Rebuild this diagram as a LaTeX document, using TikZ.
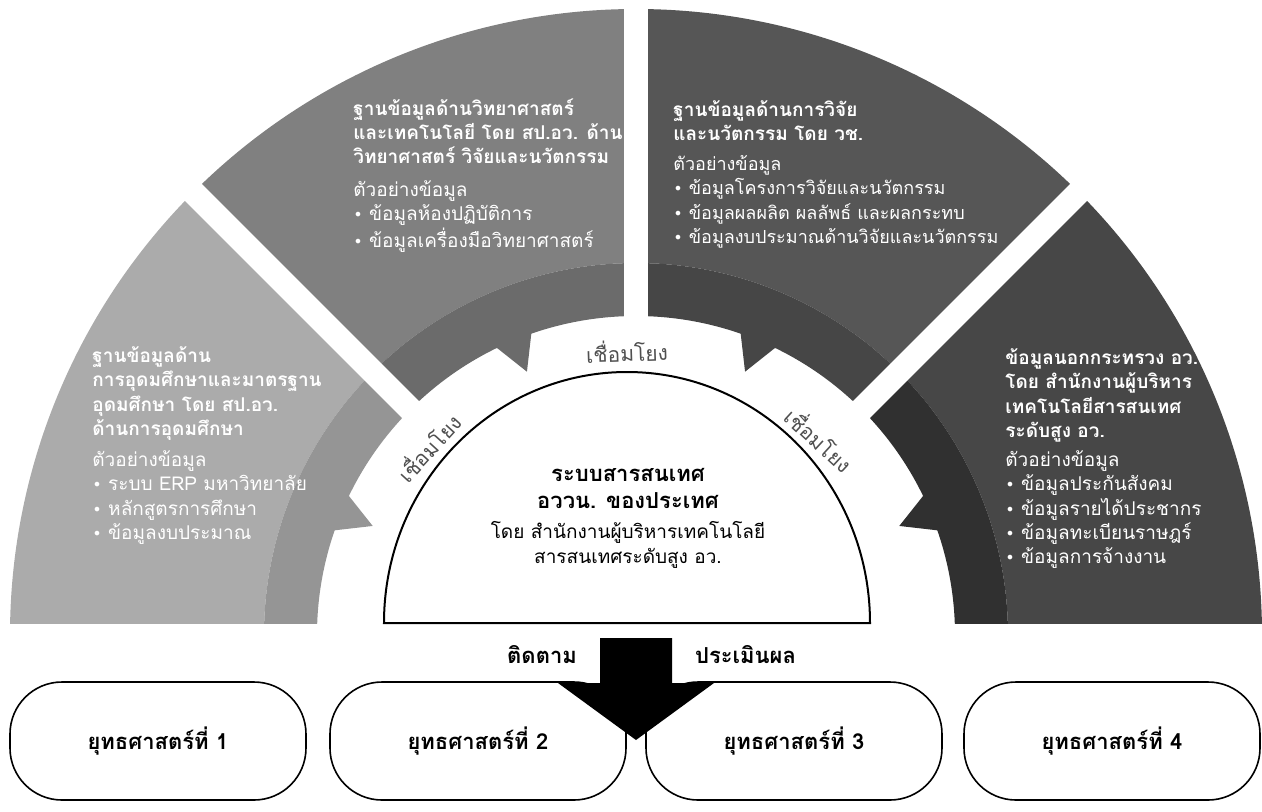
\documentclass[tikz,border=0pt]{standalone}
\usepackage{fontspec}
\setmainfont[Script=Thai]{Loma}
\newfontfamily\symfont{DejaVu Sans}
\newcommand{\bul}{{\symfont\footnotesize •}\ }

\definecolor{secA}{HTML}{ABABAB}
\definecolor{bandA}{HTML}{959595}
\definecolor{secB}{HTML}{808080}
\definecolor{bandB}{HTML}{6B6B6B}
\definecolor{secC}{HTML}{565656}
\definecolor{bandC}{HTML}{464646}
\definecolor{secD}{HTML}{474747}
\definecolor{bandD}{HTML}{303030}
\definecolor{linktext}{HTML}{505050}

\tikzset{
  ttl/.style={font=\bfseries\fontsize{9.5}{12.2}\selectfont, text=white, align=left, anchor=north west, inner sep=0pt},
  bdy/.style={font=\fontsize{9.5}{12.2}\selectfont, text=white, align=left, anchor=north west, inner sep=0pt},
  linklabel/.style={font=\fontsize{10.5}{12}\selectfont, text=linktext, inner sep=0pt},
  stratbox/.style={draw, fill=white, line width=0.8pt, rounded corners=26pt, minimum width=148pt, minimum height=59pt, font=\bfseries\fontsize{11}{13}\selectfont}
}

\begin{document}
\begin{tikzpicture}[x=0.5pt, y=0.5pt]
    \useasboundingbox (-636,-176) rectangle (626,635);
    % ring of four sectors, cut at the base line
    \begin{scope}
      \clip (-640,12) rectangle (640,640);
      \fill [secA] (180:372) arc (180:135:372) -- (135:626) arc (135:180:626) -- cycle;
      \fill [bandA] (180:319) arc (180:135:319) -- (135:372) arc (135:180:372) -- cycle;
      \fill [bandA] (161.1:322) -- (157.5:285) -- (153.9:322) -- cycle;
      \fill [secB] (135:372) arc (135:90:372) -- (90:626) arc (90:135:626) -- cycle;
      \fill [bandB] (135:319) arc (135:90:319) -- (90:372) arc (90:135:372) -- cycle;
      \fill [bandB] (116.1:322) -- (112.5:285) -- (108.9:322) -- cycle;
      \fill [secC] (90:372) arc (90:45:372) -- (45:626) arc (45:90:626) -- cycle;
      \fill [bandC] (90:319) arc (90:45:319) -- (45:372) arc (45:90:372) -- cycle;
      \fill [bandC] (71.1:322) -- (67.5:285) -- (63.9:322) -- cycle;
      \fill [secD] (45:372) arc (45:0:372) -- (0:626) arc (0:45:626) -- cycle;
      \fill [bandD] (45:319) arc (45:0:319) -- (0:372) arc (0:45:372) -- cycle;
      \fill [bandD] (26.1:322) -- (22.5:285) -- (18.9:322) -- cycle;
    \end{scope}
    % gaps between the sectors
    \draw [white, line width=12pt] (0,0) -- (45:660);
    \draw [white, line width=12pt] (0,0) -- (90:660);
    \draw [white, line width=12pt] (0,0) -- (135:660);

    % centre half disc
    \draw [fill=white, line width=1pt] (-252,12) arc [start angle=180, end angle=0, x radius=243, y radius=251] -- cycle;
    \node [font=\bfseries\fontsize{11}{13.5}\selectfont, align=center] (hubtitle) at (-8,147) {ระบบสารสนเทศ\\อววน. ของประเทศ};
    \node [font=\fontsize{9.5}{12.5}\selectfont, align=center] (hubsub) at (-8,90) {โดย สำนักงานผู้บริหารเทคโนโลยี\\สารสนเทศระดับสูง อว.};

    \node [linklabel, rotate=47.6] (link1) at (-208,188) {เชื่อมโยง};
    \node [linklabel, rotate=1.8] (link2) at (-9,284) {เชื่อมโยง};
    \node [linklabel, rotate=-42.6] (link3) at (184,196) {เชื่อมโยง};

    % sector texts
    \node [ttl] (s1title) at (-544,289) {ฐานข้อมูลด้าน\\การอุดมศึกษาและมาตรฐาน\\อุดมศึกษา โดย สป.อว.\\ด้านการอุดมศึกษา};
    \node [bdy] (s1body) at (-544,185) {ตัวอย่างข้อมูล\\\bul ระบบ ERP มหาวิทยาลัย\\\bul หลักสูตรการศึกษา\\\bul ข้อมูลงบประมาณ};
    \node [ttl] (s2title) at (-283,537) {ฐานข้อมูลด้านวิทยาศาสตร์\\และเทคโนโลยี โดย สป.อว. ด้าน\\วิทยาศาสตร์ วิจัยและนวัตกรรม};
    \node [bdy] (s2body) at (-283,455) {ตัวอย่างข้อมูล\\\bul ข้อมูลห้องปฏิบัติการ\\\bul ข้อมูลเครื่องมือวิทยาศาสตร์};
    \node [ttl] (s3title) at (37,535) {ฐานข้อมูลด้านการวิจัย\\และนวัตกรรม โดย วช.};
    \node [bdy, font=\fontsize{9}{12.2}\selectfont] (s3body) at (37,480) {ตัวอย่างข้อมูล\\\bul ข้อมูลโครงการวิจัยและนวัตกรรม\\\bul ข้อมูลผลผลิต ผลลัพธ์ และผลกระทบ\\\bul ข้อมูลงบประมาณด้านวิจัยและนวัตกรรม};
    \node [ttl] (s4title) at (369,287) {ข้อมูลนอกกระทรวง อว.\\โดย สำนักงานผู้บริหาร\\เทคโนโลยีสารสนเทศ\\ระดับสูง อว.};
    \node [bdy] (s4body) at (369,185) {ตัวอย่างข้อมูล\\\bul ข้อมูลประกันสังคม\\\bul ข้อมูลรายได้ประชากร\\\bul ข้อมูลทะเบียนราษฎร์\\\bul ข้อมูลการจ้างงาน};

    % strategies
    \node [stratbox] (st1) at (-478,-106) {ยุทธศาสตร์ที่ 1};
    \node [stratbox] (st2) at (-158,-106) {ยุทธศาสตร์ที่ 2};
    \node [stratbox] (st3) at (158,-106) {ยุทธศาสตร์ที่ 3};
    \node [stratbox] (st4) at (476,-106) {ยุทธศาสตร์ที่ 4};

    % big arrow down to the strategies
    \fill (-36,-3) -- (36,-3) -- (36,-48) -- (78,-48) -- (0,-105) -- (-78,-48) -- (-36,-48) -- cycle;
    \node [font=\bfseries\fontsize{11}{13}\selectfont, anchor=east] (follow) at (-52,-20) {ติดตาม};
    \node [font=\bfseries\fontsize{11}{13}\selectfont, anchor=west] (assess) at (52,-20) {ประเมินผล};
\end{tikzpicture}
\end{document}
